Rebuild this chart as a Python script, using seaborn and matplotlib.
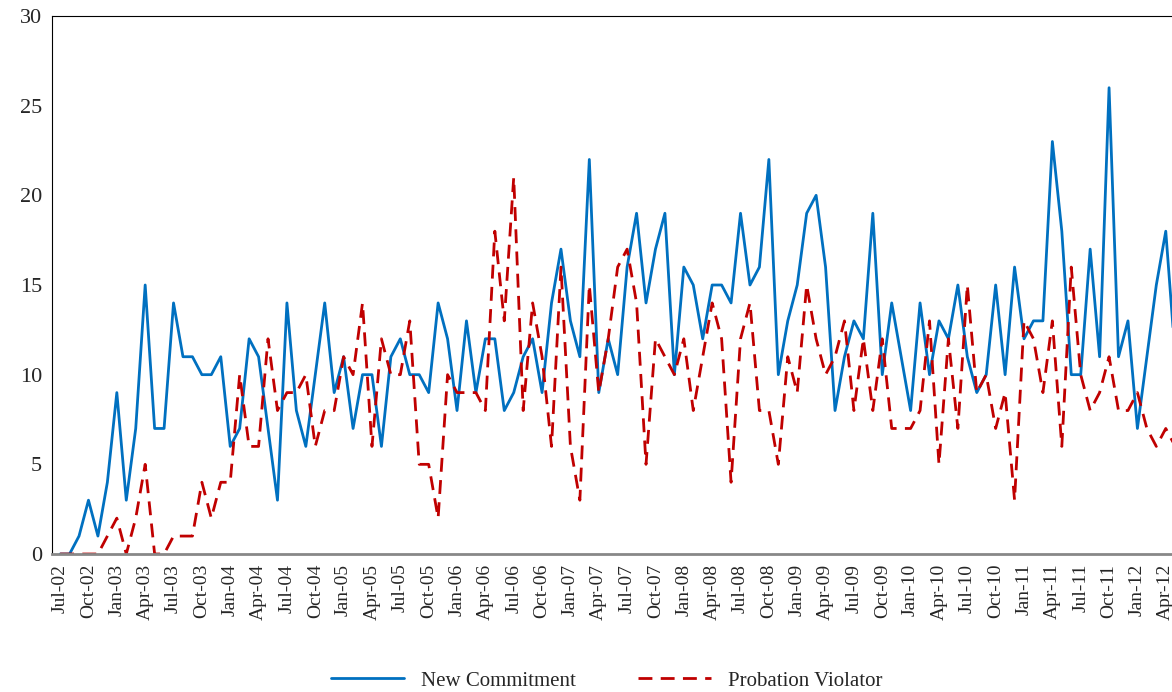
import pandas as pd
import numpy as np
import matplotlib.pyplot as plt
import seaborn as sns

## monthly counts Jul-02 .. Jun-12
new_commitment = [0, 0, 1, 3, 1, 4, 9, 3, 7, 15, 7, 7, 14, 11, 11, 10, 10, 11, 6, 7,
                  12, 11, 7, 3, 14, 8, 6, 10, 14, 9, 11, 7, 10, 10, 6, 11, 12, 10, 10, 9,
                  14, 12, 8, 13, 9, 12, 12, 8, 9, 11, 12, 9, 14, 17, 13, 11, 22, 9, 12, 10,
                  16, 19, 14, 17, 19, 10, 16, 15, 12, 15, 15, 14, 19, 15, 16, 22, 10, 13, 15, 19,
                  20, 16, 8, 11, 13, 12, 19, 10, 14, 11, 8, 14, 10, 13, 12, 15, 11, 9, 10, 15,
                  10, 16, 12, 13, 13, 23, 18, 10, 10, 17, 11, 26, 11, 13, 7, 11, 15, 18, 11, 15]
probation_violator = [0, 0, 0, 0, 0, 1, 2, 0, 2, 5, 0, 0, 1, 1, 1, 4, 2, 4, 4, 10,
                      6, 6, 12, 8, 9, 9, 10, 6, 8, 8, 11, 10, 14, 6, 12, 10, 10, 13, 5, 5,
                      2, 10, 9, 9, 9, 8, 18, 13, 21, 8, 14, 11, 6, 16, 6, 3, 15, 9, 12, 16,
                      17, 14, 5, 12, 11, 10, 12, 8, 11, 14, 12, 4, 12, 14, 8, 8, 5, 11, 9, 15,
                      12, 10, 11, 13, 8, 12, 8, 12, 7, 7, 7, 8, 13, 5, 12, 7, 15, 9, 10, 7,
                      9, 3, 13, 12, 9, 13, 6, 16, 10, 8, 9, 11, 8, 8, 9, 7, 6, 7, 6, 8]
months = pd.date_range('2002-07-01', periods=len(new_commitment), freq='MS')
tick_labels = [m.strftime('%b-%y') for m in months[::3]]

df = pd.DataFrame({'idx': np.arange(len(months)),
                   'New Commitment': new_commitment,
                   'Probation Violator': probation_violator})

sns.set_style('white')
plt.rcParams['font.family'] = ['Liberation Serif', 'DejaVu Serif']

fig = plt.figure(figsize=(11.72, 6.92), dpi=100)
ax = fig.add_axes([52 / 1172, 1 - 554 / 692, (1172 - 52) / 1172 + 0.01, (554 - 16) / 692])
sns.lineplot(x='idx', y='New Commitment', data=df, ax=ax, color='#0070C0', lw=2, label='New Commitment')
sns.lineplot(x='idx', y='Probation Violator', data=df, ax=ax, color='#C00000', lw=2,
             label='Probation Violator')
ax.lines[1].set_dashes((5, 3))
ax.set_xlim(-0.86, 118.9)
ax.set_ylim(0, 30)
ax.set_yticks(range(0, 31, 5))
ax.set_xticks(np.arange(0, len(months), 3))
ax.set_xticklabels(tick_labels, rotation=90, fontsize=14)
ax.tick_params(axis='y', labelsize=16)
ax.set_xlabel('')
ax.set_ylabel('')
for s in ['top', 'left', 'right']:
    ax.spines[s].set_color('black')
ax.spines['bottom'].set_color('#888888')
ax.spines['bottom'].set_linewidth(2)
leg = ax.legend(loc='center', bbox_to_anchor=(0.49, -0.236), ncol=2, frameon=False,
                fontsize=15, handlelength=3.5, columnspacing=3)
leg.get_lines()[1].set_dashes((5, 3))
plt.savefig('out.png', dpi=100)
